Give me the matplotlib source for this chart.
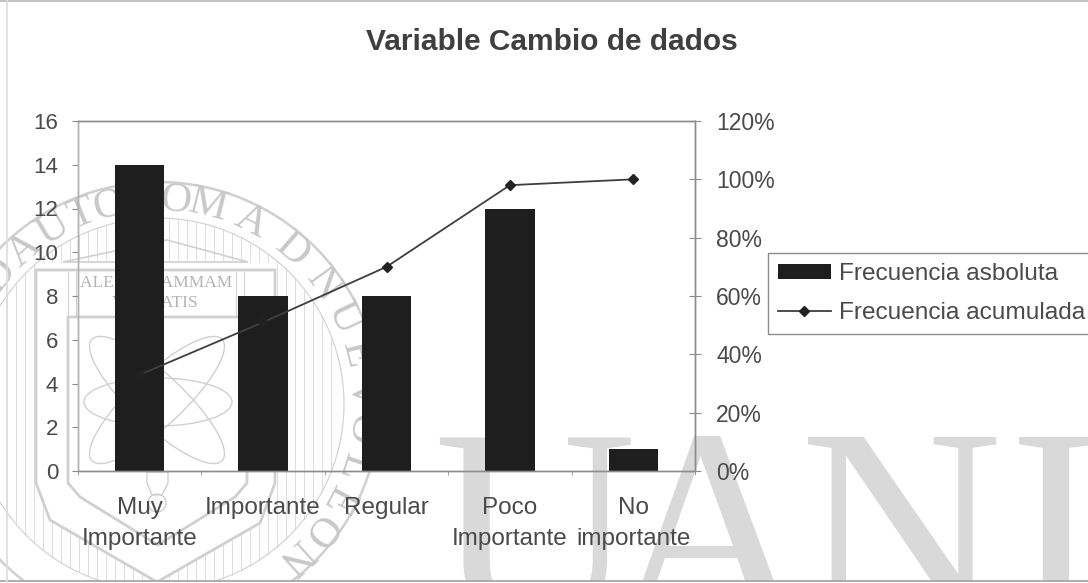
import numpy as np
import matplotlib
matplotlib.use('Agg')
import matplotlib.pyplot as plt
from matplotlib.patches import Circle, Polygon, Ellipse

plt.rcParams['font.family'] = ['Liberation Sans', 'DejaVu Sans']

# Data
categories = ['Muy\nImportante', 'Importante', 'Regular', 'Poco\nImportante', 'No\nimportante']
frecuencia_absoluta = [14, 8, 8, 12, 1]
frecuencia_acumulada = [0.33, 0.51, 0.70, 0.98, 1.00]
left_ticks = [0, 2, 4, 6, 8, 10, 12, 14, 16]
right_ticks = [0, 0.2, 0.4, 0.6, 0.8, 1.0, 1.2]
right_labels = ['0%', '20%', '40%', '60%', '80%', '100%', '120%']

W, H = 1088, 583
text_col = '#4a4a4a'
axis_col = '#8c8c8c'
wm_col = '#d0d0d0'

fig = plt.figure(figsize=(W / 100, H / 100), dpi=100, facecolor='white')

# Background layer in pixel coordinates: scan border and watermark
bg = fig.add_axes([0, 0, 1, 1], zorder=0)
bg.set_xlim(0, W)
bg.set_ylim(H, 0)
bg.axis('off')

# big letters, placed one by one like the stamp
for ch, xpos in zip('UANL', [433, 607, 800, 1011]):
    bg.text(xpos, 622, ch, family='Liberation Serif', fontsize=202, color='#d9d9d9',
            ha='left', va='baseline')

# seal
cx, cy = 158, 404
bg.add_patch(Circle((cx, cy), 222, fill=False, ec=wm_col, lw=1.8))
bg.add_patch(Circle((cx, cy), 186, fill=False, ec=wm_col, lw=0.8))

seal_letters = 'DAUTONOMADNUEVOLEON'
seal_angles = [-51, -41, -31, -22, -14, -3, 5, 14, 27, 41, 54, 65, 76, 87, 97, 108, 118, 128, 138]
for ch, a in zip(seal_letters, seal_angles):
    t = np.radians(a)
    bg.text(cx + 204 * np.sin(t), cy - 204 * np.cos(t), ch, family='Liberation Serif',
            fontsize=31, color='#c8c8c8', rotation=-a, ha='center', va='center',
            rotation_mode='anchor')

# shields
outer = np.array([[36, 270], [36, 483], [50, 520], [157, 582], [260, 523], [275, 483], [275, 270]])
inner = np.array([[68, 317], [68, 483], [80, 497], [158, 545], [235, 497], [247, 483], [247, 317]])
bg.add_patch(Polygon(outer, closed=True, fill=False, ec=wm_col, lw=2))
bg.add_patch(Polygon(inner, closed=True, fill=False, ec=wm_col, lw=2))

# vertical hatching between the shield and the ring
for xh in np.arange(-20, 340, 9):
    half = np.sqrt(max(186 ** 2 - (xh - cx) ** 2, 0))
    y_top, y_bot = cy - half, cy + half
    if xh < 36 or xh > 275:
        bg.plot([xh, xh], [y_top, y_bot], color=wm_col, lw=0.5)
    else:
        bg.plot([xh, xh], [y_top, 262], color=wm_col, lw=0.5)
        y_shield = np.interp(xh, outer[:4, 0], outer[:4, 1]) if xh <= 157 else \
            np.interp(xh, outer[3:6, 0], outer[3:6, 1])
        if y_bot > y_shield:
            bg.plot([xh, xh], [y_shield, y_bot], color=wm_col, lw=0.5)

# temple
bg.add_patch(Polygon([[63, 262], [167, 240], [248, 262]], closed=True, facecolor='white',
                     ec=wm_col, lw=1.2))
for xc in [68, 76, 236, 244]:
    bg.plot([xc, xc], [272, 317], color=wm_col, lw=0.8)
bg.text(156, 283, 'ALERE FLAMMAM', family='Liberation Serif', fontsize=12.5, color='#b4b4b4',
        ha='center', va='center')
bg.text(155, 303, 'VERITATIS', family='Liberation Serif', fontsize=12.5, color='#b4b4b4',
        ha='center', va='center')

# atom and torch
bg.add_patch(Ellipse((158, 402), 148, 48, fill=False, ec=wm_col, lw=1))
for ang in [43, -43]:
    bg.add_patch(Ellipse((157, 400), 178, 52, angle=ang, fill=False, ec=wm_col, lw=1))
bg.add_patch(Polygon([[147, 472], [168, 472], [168, 483], [162, 495], [152, 495], [147, 483]],
                     closed=True, fill=False, ec=wm_col, lw=1))
bg.add_patch(Circle((157, 503), 9, fill=False, ec=wm_col, lw=1))

# scan border goes over the stamp, the page ends under it
bg.fill_between([0, W], 581, H, color='white', zorder=3)
bg.plot([0, W], [1, 1], color='#b8b8b8', lw=1.2, zorder=4)
bg.plot([0, W], [581, 581], color='#a0a0a0', lw=1.2, zorder=4)
bg.plot([7, 7], [0, H], color='#dddddd', lw=1.2, zorder=4)

# Chart
x = np.arange(len(categories))
ax = fig.add_axes([78 / W, 1 - 471 / H, 617 / W, 350 / H], zorder=2)
ax.patch.set_alpha(0)
bars = ax.bar(x, frecuencia_absoluta, width=0.4, color='#1e1e1e', label='Frecuencia asboluta')
ax.set_xlim(-0.5, 4.5)
ax.set_ylim(0, 16)
ax.set_yticks(left_ticks)
ax.set_xticks(x)
ax.set_xticklabels(categories, fontsize=17.5, color=text_col, linespacing=1.5)
ax.set_xticks(np.arange(-0.5, 5), minor=True)
ax.tick_params(axis='x', which='major', length=0, pad=19)
ax.tick_params(axis='x', which='minor', length=3, direction='out', color=axis_col)
ax.tick_params(axis='y', length=4.3, direction='out', color=axis_col, labelsize=16,
               labelcolor=text_col, pad=10)

ax2 = ax.twinx()
ax2.patch.set_alpha(0)
line, = ax2.plot(x, frecuencia_acumulada, color='#3f3f3f', lw=1.3, marker='D', ms=5,
                 mfc='#222222', mec='#222222', label='Frecuencia acumulada')
ax2.set_ylim(0, 1.2)
ax2.set_yticks(right_ticks)
ax2.set_yticklabels(right_labels)
ax2.tick_params(axis='y', length=8.6, direction='inout', color=axis_col, labelsize=16.5,
                labelcolor=text_col, pad=11)

for a in (ax, ax2):
    for s in a.spines.values():
        s.set_color(axis_col)
        s.set_linewidth(1)
ax.spines['left'].set_color('#b0b0b0')
ax2.spines['left'].set_color('#b0b0b0')

fig.text(552 / W, 1 - 42 / H, 'Variable Cambio de dados', fontsize=21.5, fontweight='bold',
         color='#3f3f3f', ha='center', va='center')

leg = fig.legend(handles=[bars, line], loc='upper left',
                 bbox_to_anchor=(768 / W, 1 - 253 / H), fontsize=17.6, labelcolor=text_col,
                 frameon=True, fancybox=False, edgecolor=axis_col, facecolor='white',
                 framealpha=1, borderaxespad=0, handlelength=2.17, handleheight=0.57,
                 handletextpad=0.33, labelspacing=0.72, borderpad=0.4)
leg.set_zorder(5)

fig.savefig('out.png', dpi=100)
